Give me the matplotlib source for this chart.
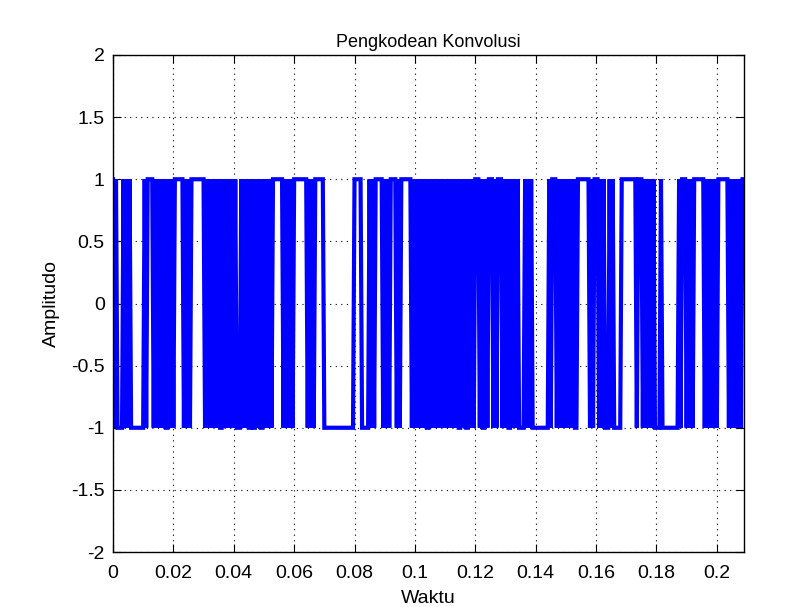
import numpy as np
import matplotlib
matplotlib.use("Agg")
import matplotlib.pyplot as plt

# ---- data ----
bit_time = 0.0005          # seconds per coded bit
start_level = 1
# run lengths (in bits) of the +1/-1 coded signal; levels alternate run to run
runs = ([1]*3 + [4] + [1]*5 + [9] + [1]*2 + [4] + [1]*8 + [2] + [1]*4 + [6] +
        [1]*5 + [9] + [1]*10 + [2] + [1]*9 + [3] + [1]*5 + [2] + [1]*1 + [2] +
        [1]*3 + [2] + [1]*6 + [7] + [1]*7 + [9] + [1]*5 + [6] + [20] + [5] +
        [5] + [1]*4 + [5] + [1]*5 + [4] + [1]*3 + [7] + [1]*10 + [2] +
        [1]*19 + [2] + [1]*3 + [2] + [1]*4 + [3] + [1]*2 + [2] + [1]*2 + [3] +
        [1]*3 + [3] + [1]*4 + [2] + [1]*5 + [4] + [1]*5 + [11] + [1]*2 + [3] +
        [1]*12 + [2] + [8] + [1]*3 + [3] + [1]*4 + [3] + [1]*3 + [5] + [10] +
        [1]*1 + [3] + [1]*8 + [4] + [1]*1 + [11] + [1]*2 + [3] + [1]*5 + [7] +
        [1]*9 + [7] + [1]*10)

x_ticks = [0, 0.02, 0.04, 0.06, 0.08, 0.1, 0.12, 0.14, 0.16, 0.18, 0.2]
x_tick_labels = ["0", "0.02", "0.04", "0.06", "0.08", "0.1", "0.12", "0.14", "0.16", "0.18", "0.2"]
y_ticks = [-2, -1.5, -1, -0.5, 0, 0.5, 1, 1.5, 2]
y_tick_labels = ["-2", "-1.5", "-1", "-0.5", "0", "0.5", "1", "1.5", "2"]
title = "Pengkodean Konvolusi"
xlabel = "Waktu"
ylabel = "Amplitudo"
x_max = 0.209

# expand runs into a sample-per-bit signal
levels = np.array([start_level * (1 if i % 2 == 0 else -1) for i in range(len(runs))])
signal = np.repeat(levels, runs)
t = np.arange(len(signal)) * bit_time

plt.rcParams['font.family'] = ['Liberation Sans', 'DejaVu Sans']
fig = plt.figure(figsize=(8.11, 6.07), dpi=100)
fig.patch.set_facecolor('white')
ax = fig.add_axes([0.1393, 0.0906, 0.9174 - 0.1393, 0.9094 - 0.0906])

ax.plot(t, signal, color='#0000ff', linewidth=3.0, solid_joinstyle='miter')

ax.set_xlim(0, x_max)
ax.set_ylim(-2, 2)
ax.set_xticks(x_ticks)
ax.set_xticklabels(x_tick_labels)
ax.set_yticks(y_ticks)
ax.set_yticklabels(y_tick_labels)
ax.grid(True, linestyle=(0, (1, 4)), color='black', linewidth=0.8)
ax.tick_params(direction='in', length=6, width=0.8, top=True, right=True,
               labelsize=14, colors='black')
ax.tick_params(axis='x', pad=9)
ax.tick_params(axis='y', pad=6)
for s in ax.spines.values():
    s.set_linewidth(1.0)
    s.set_color('black')
ax.set_title(title, fontsize=13, pad=6)
ax.set_xlabel(xlabel, fontsize=14, labelpad=6)
ax.set_ylabel(ylabel, fontsize=14, labelpad=8)

fig.savefig("out.png", dpi=100)
